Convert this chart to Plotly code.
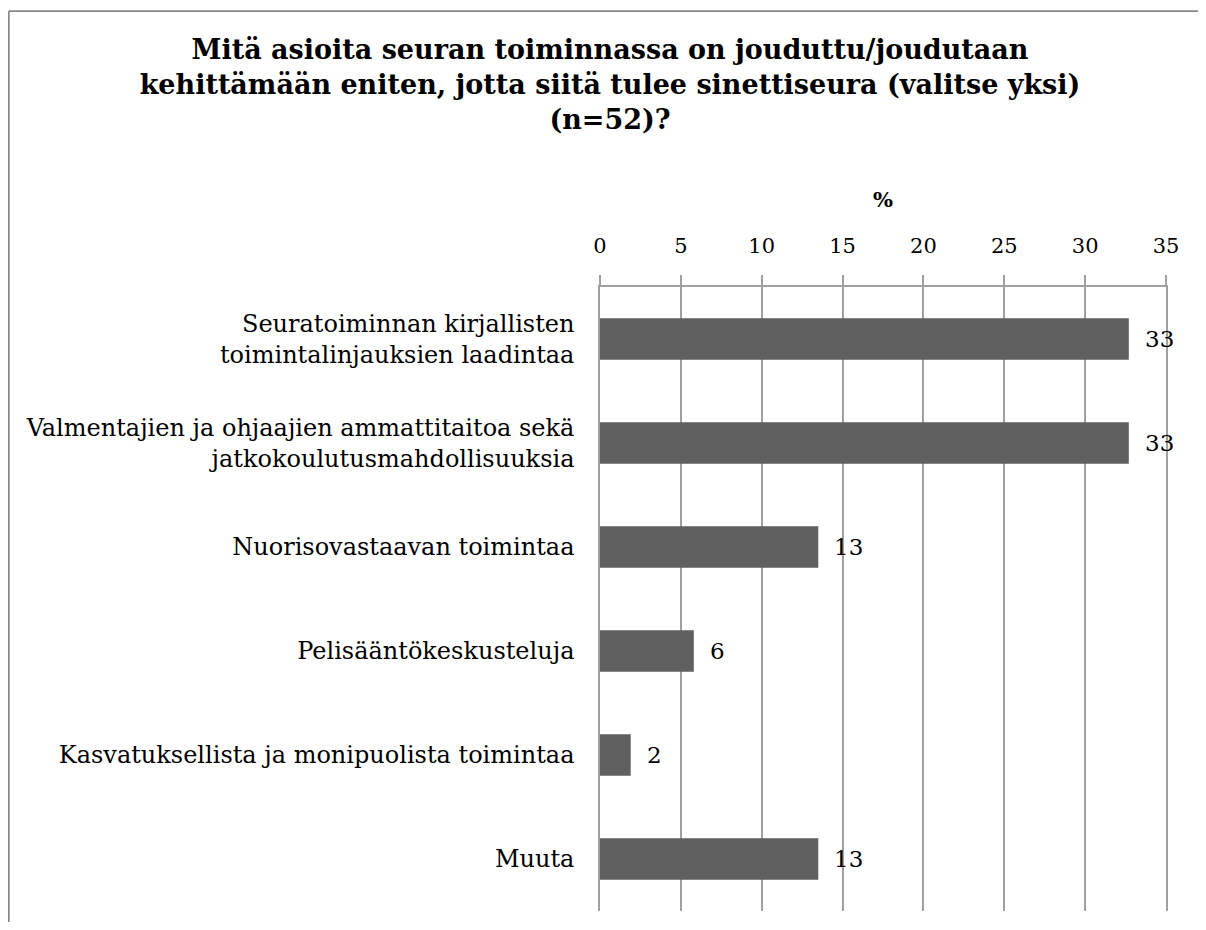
import plotly.graph_objects as go

categories = [
    "Seuratoiminnan kirjallisten<br>toimintalinjauksien laadintaa",
    "Valmentajien ja ohjaajien ammattitaitoa sekä<br>jatkokoulutusmahdollisuuksia",
    "Nuorisovastaavan toimintaa",
    "Pelisääntökeskusteluja",
    "Kasvatuksellista ja monipuolista toimintaa",
    "Muuta",
]
values = [32.7, 32.7, 13.5, 5.8, 1.9, 13.5]
value_labels = ["33", "33", "13", "6", "2", "13"]
x_ticks = [0, 5, 10, 15, 20, 25, 30, 35]

title_text = ("<b>Mitä asioita seuran toiminnassa on jouduttu/joudutaan<br>"
              "kehittämään eniten, jotta siitä tulee sinettiseura (valitse yksi)<br>"
              "(n=52)?</b>")

FONT = "DejaVu Serif"
# the page body has an 8px margin, so the figure is 8px smaller than the window
W, H = 1198, 914
L, R, T, B = 592, 40, 279, 11
pw, ph = W - L - R, H - T - B

fig = go.Figure()
fig.add_trace(go.Bar(
    y=categories, x=values, orientation="h",
    marker=dict(color="#5f5f5f", line=dict(width=0)),
    hoverinfo="skip",
))

for c, v, lab in zip(categories, values, value_labels):
    fig.add_annotation(x=v, y=c, xref="x", yref="y", text=lab, showarrow=False,
                       xanchor="left", yanchor="middle", xshift=14,
                       font=dict(family=FONT, size=23, color="#000"))

def px_to_paper_x(px):
    return (px - L) / pw

def px_to_paper_y(py):
    return (H - B - py) / ph

# frame (top and left edges visible in the reference)
fig.add_shape(type="line", xref="paper", yref="paper",
              x0=px_to_paper_x(0.8), x1=px_to_paper_x(1240),
              y0=px_to_paper_y(3.2), y1=px_to_paper_y(3.2),
              line=dict(color="#878787", width=1.8))
fig.add_shape(type="line", xref="paper", yref="paper",
              x0=px_to_paper_x(0.8), x1=px_to_paper_x(0.8),
              y0=px_to_paper_y(3.2), y1=px_to_paper_y(960),
              line=dict(color="#878787", width=1.8))

fig.update_layout(
    width=W, height=H,
    margin=dict(l=L, r=R, t=T, b=B, autoexpand=False),
    paper_bgcolor="white", plot_bgcolor="white",
    bargap=0.6,
    showlegend=False,
    font=dict(family=FONT, color="#000"),
    title=dict(text=title_text, x=602 / W, xanchor="center",
               y=1 - 51 / H, yanchor="middle", yref="container",
               font=dict(family=FONT, size=27, color="#000")),
    xaxis=dict(side="top", range=[0, 35], tickvals=x_ticks,
               showgrid=True, gridcolor="#a0a0a0", gridwidth=1.5,
               showline=True, linecolor="#a0a0a0", linewidth=1.5,
               ticks="outside", ticklen=10, tickcolor="#a0a0a0", tickwidth=1.5,
               ticklabelstandoff=14,
               tickfont=dict(family=FONT, size=21, color="#000"),
               zeroline=False,
               title=dict(text="<b>%</b>", standoff=20,
                          font=dict(family=FONT, size=21, color="#000"))),
    yaxis=dict(autorange="reversed", showgrid=False,
               showline=True, linecolor="#a0a0a0", linewidth=1.5, mirror=True,
               ticks="", ticklabelstandoff=19,
               tickfont=dict(family=FONT, size=24, color="#000")),
)

fig.write_html("out.html")
